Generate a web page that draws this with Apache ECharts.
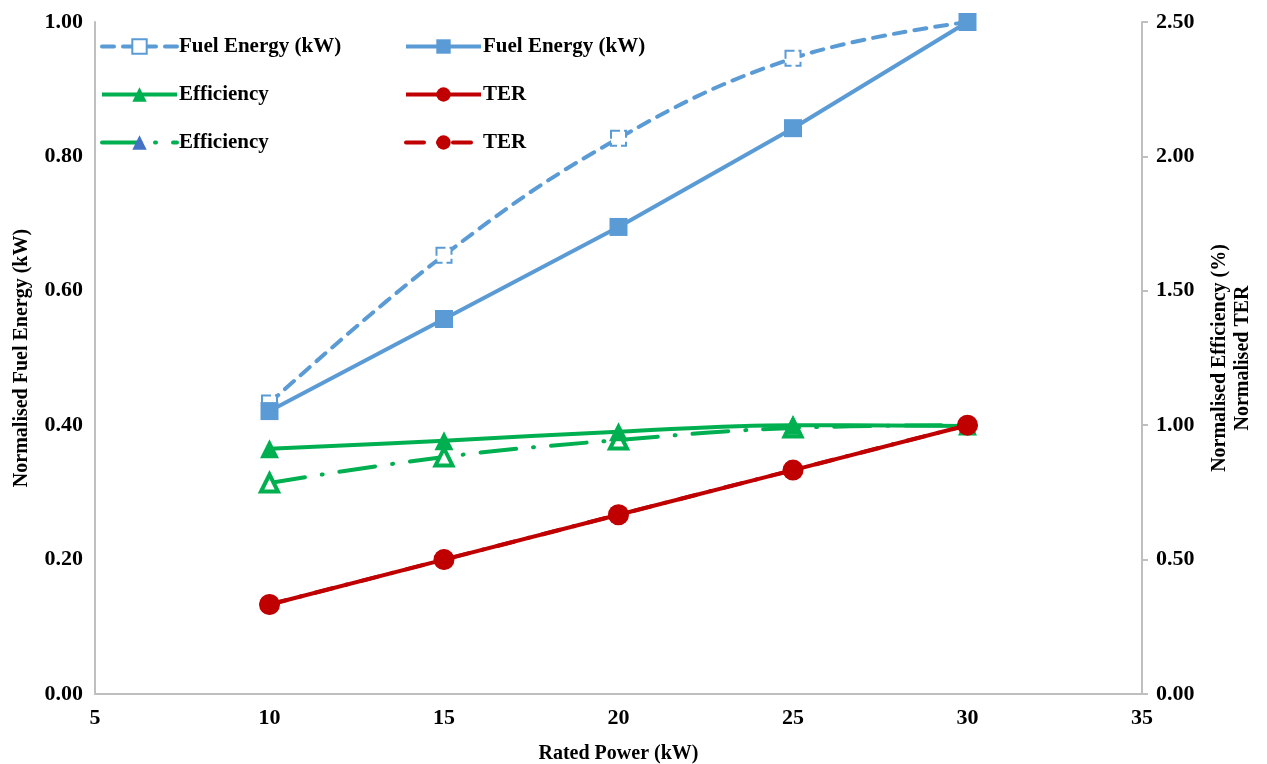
<!DOCTYPE html>
<html>
<head>
<meta charset="utf-8">
<script src="https://cdn.jsdelivr.net/npm/echarts@6/dist/echarts.min.js"></script>
<style>
  html, body { margin: 0; padding: 0; background: #fff; }
  #chart { width: 1267px; height: 764px; }
</style>
</head>
<body>
<div id="chart"></div>
<script>
// Rated power (kW)
const ratedPower = [10, 15, 20, 25, 30]

// Left axis: normalised fuel energy
const fuelEnergyDashed = [0.433, 0.653, 0.827, 0.946, 1.0]
const fuelEnergySolid = [0.421, 0.558, 0.695, 0.842, 1.0]

// Right axis: normalised efficiency / TER
const efficiencySolid = [0.912, 0.942, 0.976, 1.0, 0.997]
const efficiencyDashDot = [0.785, 0.882, 0.945, 0.99, 1.0]
const terSolid = [0.333, 0.5, 0.667, 0.833, 1.0]
const terDotted = [0.333, 0.5, 0.667, 0.833, 1.0]

const BLUE = '#5b9bd5'
const GREEN = '#00b050'
const RED = '#c00000'
const DARK_BLUE = '#4472c4'
const AXIS_GREY = '#bfbfbf'
const FONT = '"Liberation Serif", "Times New Roman", serif'

const pairs = (ys) => ratedPower.map((x, i) => [x, ys[i]])

const chart = echarts.init(document.getElementById('chart'))

const labelStyle = { fontFamily: FONT, fontWeight: 'bold', fontSize: 22, color: '#000' }
const nameStyle = { fontFamily: FONT, fontWeight: 'bold', fontSize: 20, color: '#000' }

const legendBase = {
  orient: 'vertical',
  top: 36,
  padding: 0,
  itemWidth: 75,
  itemHeight: 18,
  itemGap: 27,
  lineStyle: { width: 4 },
  textStyle: { fontFamily: FONT, fontWeight: 'bold', fontSize: 21, color: '#000', padding: [0, 0, 0, -3] }
}

const option = {
  animation: false,
  backgroundColor: '#fff',
  legend: [
    { ...legendBase, left: 100, data: ['Fuel Energy (kW)', 'Efficiency', 'Efficiency '] },
    { ...legendBase, left: 404, data: ['Fuel Energy (kW) ', 'TER', 'TER '] }
  ],
  grid: { left: 95, right: 125, top: 22, bottom: 70, containLabel: false, outerBoundsMode: 'none' },
  xAxis: {
    type: 'value',
    min: 5,
    max: 35,
    interval: 5,
    name: 'Rated Power (kW)',
    nameLocation: 'middle',
    nameGap: 50,
    nameMoveOverlap: false,
    nameTextStyle: nameStyle,
    axisLine: { lineStyle: { color: AXIS_GREY, width: 2 } },
    axisTick: { show: false },
    axisLabel: { ...labelStyle, margin: 13 },
    splitLine: { show: false }
  },
  yAxis: [
    {
      type: 'value',
      min: 0,
      max: 1,
      interval: 0.2,
      name: 'Normalised Fuel Energy (kW)',
      nameLocation: 'middle',
      nameGap: 63,
      nameMoveOverlap: false,
      nameTextStyle: nameStyle,
      axisLine: { show: true, lineStyle: { color: AXIS_GREY, width: 2 } },
      axisTick: { show: false },
      axisLabel: { ...labelStyle, margin: 12, formatter: v => v.toFixed(2) },
      splitLine: { show: false }
    },
    {
      type: 'value',
      position: 'right',
      min: 0,
      max: 2.5,
      interval: 0.5,
      name: 'Normalised Efficiency (%)\nNormalised TER',
      nameLocation: 'middle',
      nameRotate: 90,
      nameGap: 66,
      nameMoveOverlap: false,
      nameTextStyle: { ...nameStyle, lineHeight: 23 },
      axisLine: { show: true, lineStyle: { color: AXIS_GREY, width: 2 } },
      axisTick: { show: true, length: 6, lineStyle: { color: AXIS_GREY, width: 2 } },
      axisLabel: { ...labelStyle, margin: 14, formatter: v => v.toFixed(2) },
      splitLine: { show: false }
    }
  ],
  series: [
    {
      name: 'Fuel Energy (kW)',
      type: 'line',
      yAxisIndex: 0,
      smooth: 0.4,
      data: pairs(fuelEnergyDashed),
      symbol: 'emptyRect',
      symbolSize: 15,
      lineStyle: { color: BLUE, width: 4, type: [12, 9], cap: 'round' },
      itemStyle: { color: BLUE, borderColor: BLUE, borderWidth: 4, borderType: [9, 4] },
      z: 3
    },
    {
      name: 'Fuel Energy (kW) ',
      type: 'line',
      yAxisIndex: 0,
      data: pairs(fuelEnergySolid),
      symbol: 'rect',
      symbolSize: 18,
      lineStyle: { color: BLUE, width: 4 },
      itemStyle: { color: BLUE },
      z: 3
    },
    {
      name: 'Efficiency ',
      type: 'line',
      yAxisIndex: 1,
      smooth: 0.4,
      data: ratedPower.map((x, i) => ({
        value: [x, efficiencyDashDot[i]],
        itemStyle: i < 4 ? { color: '#fff', borderColor: GREEN, borderWidth: 4 } : undefined
      })),
      symbol: 'triangle',
      symbolSize: 17,
      lineStyle: { color: GREEN, width: 4, type: [36, 17, 1, 17], cap: 'round' },
      itemStyle: { color: DARK_BLUE },
      z: 2
    },
    {
      name: 'Efficiency',
      type: 'line',
      yAxisIndex: 1,
      smooth: 0.4,
      data: pairs(efficiencySolid),
      symbol: 'triangle',
      symbolSize: 19,
      lineStyle: { color: GREEN, width: 4 },
      itemStyle: { color: GREEN },
      z: 3
    },
    {
      name: 'TER ',
      type: 'line',
      yAxisIndex: 1,
      data: pairs(terDotted),
      symbol: 'circle',
      symbolSize: 20,
      lineStyle: { color: RED, width: 4, type: [18, 14, 1, 14], cap: 'round' },
      itemStyle: { color: RED },
      z: 2
    },
    {
      name: 'TER',
      type: 'line',
      yAxisIndex: 1,
      data: pairs(terSolid),
      symbol: 'circle',
      symbolSize: 21,
      lineStyle: { color: RED, width: 4 },
      itemStyle: { color: RED },
      z: 4
    }
  ]
}

chart.setOption(option)
</script>
</body>
</html>
